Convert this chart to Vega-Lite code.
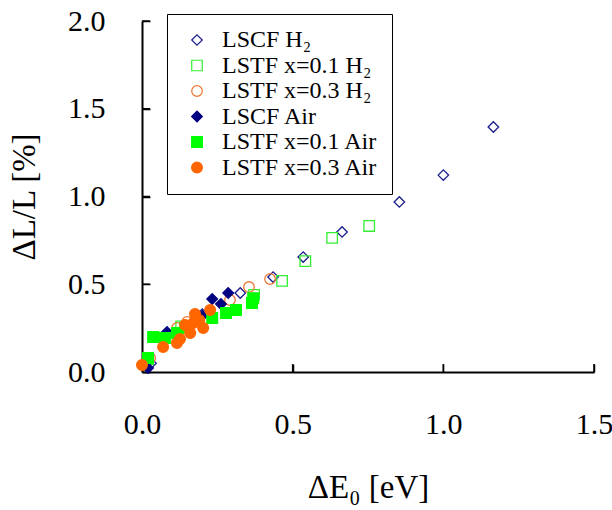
{
  "$schema": "https://vega.github.io/schema/vega-lite/v6.json",
  "width": 452,
  "height": 351,
  "autosize": "none",
  "padding": {"left": 142, "top": 21, "right": 18, "bottom": 138},
  "background": "white",
  "config": {
    "view": {"stroke": null},
    "font": "Liberation Serif"
  },
  "data": {
    "values": [
      {"x": 1.166, "y": 1.396, "s": "LSCF H₂"},
      {"x": 1.0, "y": 1.122, "s": "LSCF H₂"},
      {"x": 0.854, "y": 0.969, "s": "LSCF H₂"},
      {"x": 0.664, "y": 0.798, "s": "LSCF H₂"},
      {"x": 0.535, "y": 0.655, "s": "LSCF H₂"},
      {"x": 0.435, "y": 0.541, "s": "LSCF H₂"},
      {"x": 0.326, "y": 0.45, "s": "LSCF H₂"},
      {"x": 0.2, "y": 0.33, "s": "LSCF H₂"},
      {"x": 0.03, "y": 0.05, "s": "LSCF H₂"},
      {"x": 0.754, "y": 0.832, "s": "LSTF x=0.1 H₂"},
      {"x": 0.631, "y": 0.764, "s": "LSTF x=0.1 H₂"},
      {"x": 0.542, "y": 0.632, "s": "LSTF x=0.1 H₂"},
      {"x": 0.465, "y": 0.519, "s": "LSTF x=0.1 H₂"},
      {"x": 0.372, "y": 0.439, "s": "LSTF x=0.1 H₂"},
      {"x": 0.13, "y": 0.26, "s": "LSTF x=0.1 H₂"},
      {"x": 0.02, "y": 0.074, "s": "LSTF x=0.1 H₂"},
      {"x": 0.425, "y": 0.53, "s": "LSTF x=0.3 H₂"},
      {"x": 0.355, "y": 0.484, "s": "LSTF x=0.3 H₂"},
      {"x": 0.292, "y": 0.41, "s": "LSTF x=0.3 H₂"},
      {"x": 0.15, "y": 0.285, "s": "LSTF x=0.3 H₂"},
      {"x": 0.116, "y": 0.251, "s": "LSTF x=0.3 H₂"},
      {"x": 0.027, "y": 0.08, "s": "LSTF x=0.3 H₂"},
      {"x": 0.286, "y": 0.45, "s": "LSCF Air"},
      {"x": 0.233, "y": 0.416, "s": "LSCF Air"},
      {"x": 0.262, "y": 0.387, "s": "LSCF Air"},
      {"x": 0.2, "y": 0.32, "s": "LSCF Air"},
      {"x": 0.083, "y": 0.228, "s": "LSCF Air"},
      {"x": 0.02, "y": 0.023, "s": "LSCF Air"},
      {"x": 0.369, "y": 0.42, "s": "LSTF x=0.1 Air"},
      {"x": 0.365, "y": 0.393, "s": "LSTF x=0.1 Air"},
      {"x": 0.312, "y": 0.353, "s": "LSTF x=0.1 Air"},
      {"x": 0.279, "y": 0.336, "s": "LSTF x=0.1 Air"},
      {"x": 0.233, "y": 0.308, "s": "LSTF x=0.1 Air"},
      {"x": 0.143, "y": 0.251, "s": "LSTF x=0.1 Air"},
      {"x": 0.116, "y": 0.222, "s": "LSTF x=0.1 Air"},
      {"x": 0.076, "y": 0.194, "s": "LSTF x=0.1 Air"},
      {"x": 0.037, "y": 0.199, "s": "LSTF x=0.1 Air"},
      {"x": 0.02, "y": 0.08, "s": "LSTF x=0.1 Air"},
      {"x": 0.0, "y": 0.04, "s": "LSTF x=0.3 Air"},
      {"x": 0.07, "y": 0.142, "s": "LSTF x=0.3 Air"},
      {"x": 0.116, "y": 0.165, "s": "LSTF x=0.3 Air"},
      {"x": 0.126, "y": 0.188, "s": "LSTF x=0.3 Air"},
      {"x": 0.16, "y": 0.222, "s": "LSTF x=0.3 Air"},
      {"x": 0.17, "y": 0.279, "s": "LSTF x=0.3 Air"},
      {"x": 0.176, "y": 0.33, "s": "LSTF x=0.3 Air"},
      {"x": 0.19, "y": 0.296, "s": "LSTF x=0.3 Air"},
      {"x": 0.203, "y": 0.251, "s": "LSTF x=0.3 Air"},
      {"x": 0.226, "y": 0.353, "s": "LSTF x=0.3 Air"},
      {"x": 0.143, "y": 0.268, "s": "LSTF x=0.3 Air"}
    ]
  },
  "layer": [
    {
      "mark": {"type": "point", "filled": true, "strokeWidth": 1.3, "opacity": 1},
      "encoding": {
        "x": {
          "field": "x", "type": "quantitative", "title": "ΔE₀ [eV]",
          "scale": {"domain": [0, 1.5], "nice": false, "zero": false},
          "axis": {
            "tickCount": 3, "format": ".1f", "title": "ΔE₀ [eV]",
            "grid": false, "domain": true, "domainColor": "black", "domainWidth": 2, "domainOpacity": 1,
            "ticks": true, "tickColor": "black", "tickWidth": 1.5, "tickSize": -8, "tickOpacity": 1,
            "labelFont": "Liberation Serif", "labelFontSize": 30, "labelColor": "black", "labelPadding": 45, "labelFlush": false,
            "titleFont": "Liberation Serif", "titleFontSize": 33, "titleFontWeight": "normal", "titleColor": "black", "titlePadding": 32
          }
        },
        "y": {
          "field": "y", "type": "quantitative", "title": "ΔL/L [%]",
          "scale": {"domain": [0, 2], "nice": false, "zero": false},
          "axis": {
            "tickCount": 4, "format": ".1f", "title": "ΔL/L [%]",
            "grid": false, "domain": true, "domainColor": "black", "domainWidth": 2, "domainOpacity": 1,
            "ticks": true, "tickColor": "black", "tickWidth": 1.5, "tickSize": -8, "tickOpacity": 1,
            "labelFont": "Liberation Serif", "labelFontSize": 30, "labelColor": "black", "labelPadding": 45, "labelFlush": false,
            "titleFont": "Liberation Serif", "titleFontSize": 33, "titleFontWeight": "normal", "titleColor": "black", "titlePadding": 26
          }
        },
        "shape": {
          "field": "s", "type": "nominal",
          "scale": {
            "domain": ["LSCF H₂", "LSTF x=0.1 H₂", "LSTF x=0.3 H₂", "LSCF Air", "LSTF x=0.1 Air", "LSTF x=0.3 Air"],
            "range": ["diamond", "square", "circle", "diamond", "square", "circle"]
          },
          "legend": {
            "disable": false,
            "title": null,
            "orient": "none",
            "legendX": 25,
            "legendY": -7,
            "direction": "vertical",
            "fillColor": "white",
            "strokeColor": "black",
            "padding": 14,
            "labelFont": "Liberation Serif",
            "labelFontSize": 24,
            "labelColor": "black",
            "labelLimit": 400,
            "rowPadding": 1.5,
            "symbolSize": 110,
            "symbolStrokeWidth": 1.2,
            "symbolOffset": 4,
            "labelOffset": 13
          }
        },
        "color": {
          "field": "s", "type": "nominal",
          "scale": {
            "domain": ["LSCF H₂", "LSTF x=0.1 H₂", "LSTF x=0.3 H₂", "LSCF Air", "LSTF x=0.1 Air", "LSTF x=0.3 Air"],
            "range": ["transparent", "transparent", "transparent", "#000080", "#00ff00", "#ff6600"]
          },
          "legend": {"disable": false, "title": null}
        },
        "stroke": {
          "field": "s", "type": "nominal",
          "scale": {
            "domain": ["LSCF H₂", "LSTF x=0.1 H₂", "LSTF x=0.3 H₂", "LSCF Air", "LSTF x=0.1 Air", "LSTF x=0.3 Air"],
            "range": ["#1c1c8c", "#33ee33", "#ee7733", "#000080", "#00ff00", "#ff6600"]
          },
          "legend": {"disable": false, "title": null}
        },
        "size": {
          "field": "s", "type": "nominal",
          "scale": {
            "domain": ["LSCF H₂", "LSTF x=0.1 H₂", "LSTF x=0.3 H₂", "LSCF Air", "LSTF x=0.1 Air", "LSTF x=0.3 Air"],
            "range": [110, 115, 115, 170, 150, 140]
          },
          "legend": null
        }
      }
    },
    {
      "data": {"values": [{"v": 0.5}, {"v": 1.0}, {"v": 1.5}]},
      "mark": {"type": "rule", "color": "black", "strokeWidth": 1.5},
      "encoding": {
        "x": {"field": "v", "type": "quantitative", "title": "ΔE₀ [eV]"},
        "y": {"datum": 0},
        "y2": {"datum": 0.045}
      }
    },
    {
      "data": {"values": [{"v": 0.5}, {"v": 1.0}, {"v": 1.5}, {"v": 2.0}]},
      "mark": {"type": "rule", "color": "black", "strokeWidth": 1.5},
      "encoding": {
        "y": {"field": "v", "type": "quantitative", "title": "ΔL/L [%]"},
        "x": {"datum": 0},
        "x2": {"datum": 0.0265}
      }
    }
  ]
}
